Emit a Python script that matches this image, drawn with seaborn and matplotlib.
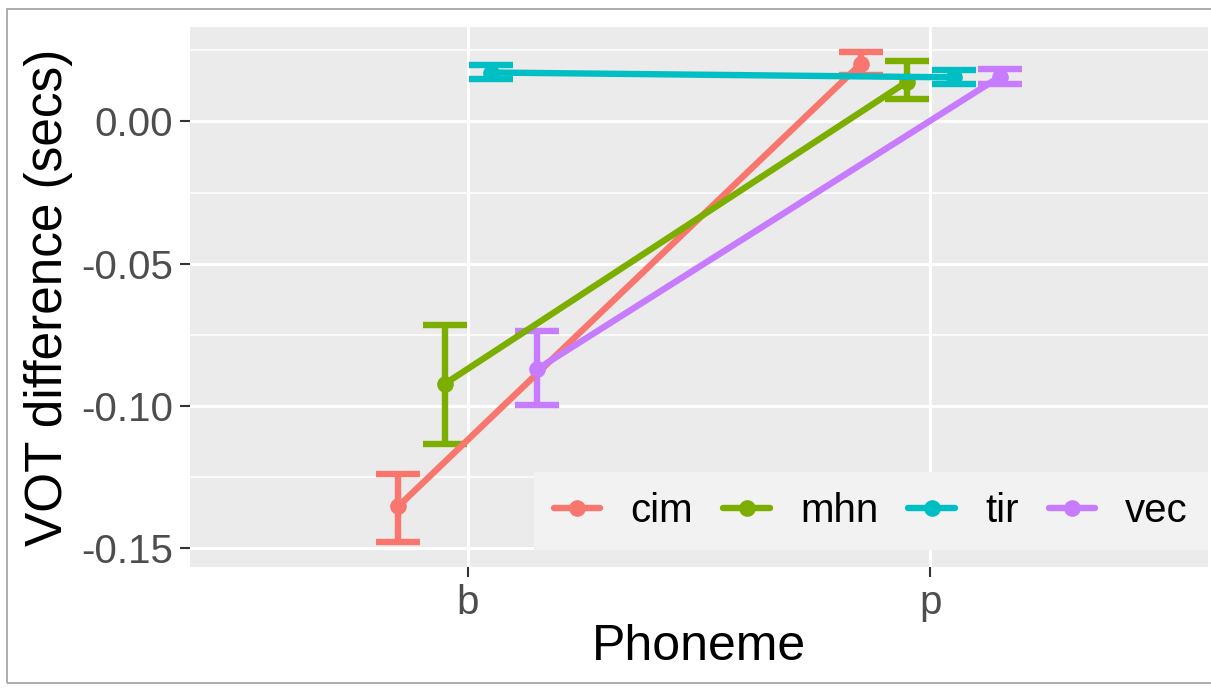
import matplotlib
matplotlib.use("Agg")
import matplotlib.pyplot as plt
import numpy as np
import pandas as pd
import seaborn as sns
from matplotlib.patches import Rectangle

# values
phonemes = ["b", "p"]
languages = ["cim", "mhn", "tir", "vec"]
means = {
    "cim": [-0.1353, 0.0203],
    "mhn": [-0.0923, 0.0140],
    "tir": [0.0172, 0.0155],
    "vec": [-0.0871, 0.0157],
}
lower = {
    "cim": [-0.1479, 0.0164],
    "mhn": [-0.1133, 0.0080],
    "tir": [0.0150, 0.0130],
    "vec": [-0.0997, 0.0132],
}
upper = {
    "cim": [-0.1238, 0.0245],
    "mhn": [-0.0717, 0.0213],
    "tir": [0.0199, 0.0180],
    "vec": [-0.0738, 0.0183],
}
colors = ["#F8766D", "#7CAE00", "#00BFC4", "#C77CFF"]

rows = []
for li, lang in enumerate(languages):
    for pi, ph in enumerate(phonemes):
        # dodge width 0.4 split over the four languages
        rows.append({"lang": lang, "phoneme": ph, "pos": pi + (li - 1.5) * 0.1,
                     "vot": means[lang][pi], "lo": lower[lang][pi], "hi": upper[lang][pi]})
df = pd.DataFrame(rows)

sns.set_theme(style="darkgrid", rc={"axes.facecolor": "#EBEBEB", "grid.color": "white"})
plt.rcParams["font.family"] = ["Liberation Sans", "DejaVu Sans"]

fig = plt.figure(figsize=(12.11, 6.91), dpi=100)
ax = fig.add_axes([190 / 1211, 1 - 567 / 691, (1208 - 190) / 1211, (567 - 27) / 691])

lw = 4.6
# error bars first, so the lines sit on top like ggplot layers
for lang, col in zip(languages, colors):
    d = df[df.lang == lang]
    ax.errorbar(d.pos, d.vot, yerr=[d.vot - d.lo, d.hi - d.vot], fmt="none",
                ecolor=col, elinewidth=lw, capsize=16, capthick=lw, zorder=3)

sns.lineplot(data=df, x="pos", y="vot", hue="lang", hue_order=languages, palette=colors,
             marker="o", markersize=12, markeredgewidth=0, linewidth=lw, ax=ax,
             legend=True, zorder=4)

ax.set_xlim(-0.6, 1.6)
ax.set_ylim(-0.1566, 0.0332)
ax.set_xticks([0, 1])
ax.set_xticklabels(phonemes, fontsize=29, color="#4D4D4D")
ax.set_yticks([0.0, -0.05, -0.10, -0.15])
ax.set_yticklabels(["0.00", "-0.05", "-0.10", "-0.15"], fontsize=29, color="#4D4D4D")
ax.set_yticks([0.025, -0.025, -0.075, -0.125], minor=True)
ax.grid(which="major", color="white", linewidth=2.2)
ax.grid(which="minor", axis="y", color="white", linewidth=1.1)
ax.tick_params(axis="both", which="major", length=7, width=1.5, color="#333333",
               left=True, bottom=True, pad=5)
ax.tick_params(which="minor", length=0)
for s in ax.spines.values():
    s.set_visible(False)

ax.set_xlabel("Phoneme", fontsize=36, color="black", labelpad=2)
ax.set_ylabel("VOT difference (secs)", fontsize=37, color="black", labelpad=6)

handles, labels = ax.get_legend_handles_labels()
leg = ax.legend(handles, labels, ncol=4, loc="lower right", bbox_to_anchor=(1.0, 0.031),
                borderaxespad=0, fontsize=29, frameon=True, facecolor="#F2F2F2",
                edgecolor="#F2F2F2", framealpha=1, handlelength=1.15, handletextpad=0.75,
                columnspacing=0.75, borderpad=0.5, fancybox=False, labelcolor="black")
leg.get_frame().set_linewidth(0)

# thin grey border around the figure
fig.patches.append(Rectangle((7 / 1211, 8 / 691), 1.05, 1 - 17 / 691, transform=fig.transFigure,
                             fill=False, edgecolor="#A0A0A0", linewidth=1.2))

fig.savefig("out.png", dpi=100)
